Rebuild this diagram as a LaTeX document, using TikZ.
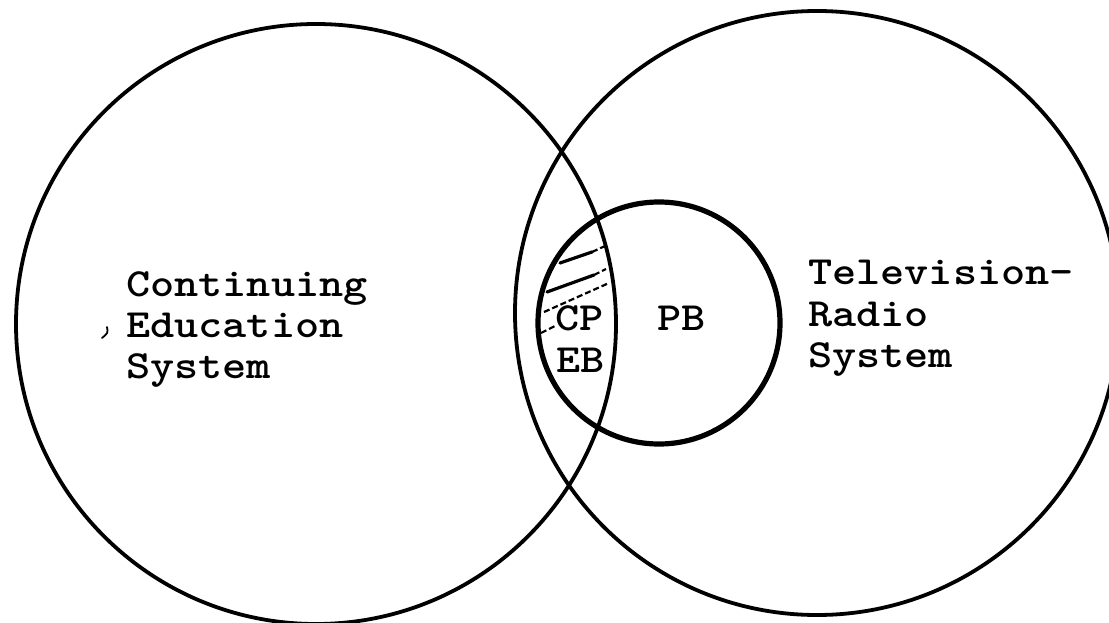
\documentclass[tikz,border=0pt]{standalone}
\usepackage{graphicx}
\begin{document}
\begin{tikzpicture}[x=1pt,y=-1pt,
  bigc/.style={draw=black,line width=3.8pt},
  smallc/.style={draw=black,line width=5.2pt},
  lbl/.style={anchor=base west,inner sep=0pt,font=\fontsize{40}{40}\selectfont\ttfamily\bfseries},
  hatch/.style={line width=3.2pt,line cap=round},
  hatchd/.style={line width=2.2pt,dashed,dash pattern=on 6pt off 3pt}]
\useasboundingbox[fill=white] (0,0) rectangle (1109,623);
\draw[bigc] (316,324) circle[radius=300pt];
\draw[bigc] (817,313) circle[radius=302pt];
\draw[smallc] (659,323) circle[radius=121pt];
% hatching in the lens
\draw[hatch] (560,263) -- (592,252);
\draw[hatchd] (592,252) -- (605,246);
\draw[hatch] (547,292) -- (594,275);
\draw[hatchd] (594,275) -- (606,269);
\draw[hatchd] (544,312) -- (609,283);
\draw[hatchd] (541,333) -- (557,325);
% labels
\node[lbl] (c1) at (126,296) {\scalebox{1.15}[1]{Continuing}};
\node[lbl] (c2) at (126,337) {\scalebox{1.15}[1]{Education}};
\node[lbl] (c3) at (126,378) {\scalebox{1.15}[1]{System}};
\node[lbl] (t1) at (808,284) {\scalebox{1.15}[1]{Television-}};
\node[lbl] (t2) at (808,326) {\scalebox{1.15}[1]{Radio}};
\node[lbl] (t3) at (808,367) {\scalebox{1.15}[1]{System}};
\node[lbl] (cp) at (555,330) {\scalebox{1.15}[1]{CP}};
\node[lbl] (eb) at (556,372) {\scalebox{1.15}[1]{EB}};
\node[lbl] (pb) at (657,330) {\scalebox{1.15}[1]{PB}};
\draw[line width=1.8pt,line cap=round] (107,327) .. controls (108,333) .. (102,338);
\end{tikzpicture}
\end{document}
